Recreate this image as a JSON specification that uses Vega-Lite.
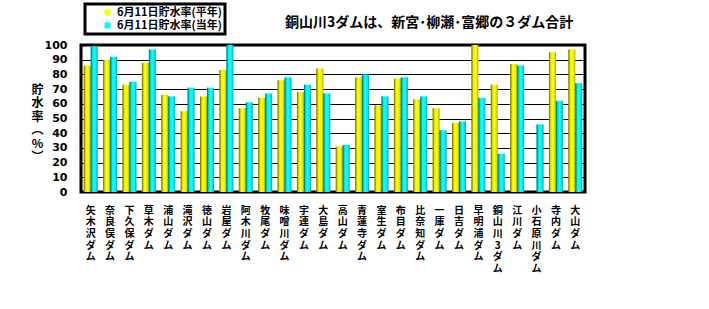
{
  "$schema": "https://vega.github.io/schema/vega-lite/v6.json",
  "width": 504,
  "height": 147,
  "autosize": {"type": "none"},
  "padding": {"left": 81, "top": 45, "right": 124, "bottom": 117},
  "background": "white",
  "title": {
    "text": "銅山川3ダムは、新宮･柳瀬･富郷の３ダム合計",
    "anchor": "start",
    "dx": 254,
    "dy": 43,
    "offset": 16,
    "font": "Noto Sans CJK JP",
    "fontSize": 14,
    "fontWeight": "bold",
    "color": "black"
  },
  "data": {
    "values": [
      {"dam": "矢木沢ダム", "series": "6月11日貯水率(平年)", "value": 86},
      {"dam": "矢木沢ダム", "series": "6月11日貯水率(当年)", "value": 99},
      {"dam": "奈良俣ダム", "series": "6月11日貯水率(平年)", "value": 90},
      {"dam": "奈良俣ダム", "series": "6月11日貯水率(当年)", "value": 92},
      {"dam": "下久保ダム", "series": "6月11日貯水率(平年)", "value": 73},
      {"dam": "下久保ダム", "series": "6月11日貯水率(当年)", "value": 75},
      {"dam": "草木ダム", "series": "6月11日貯水率(平年)", "value": 88},
      {"dam": "草木ダム", "series": "6月11日貯水率(当年)", "value": 97},
      {"dam": "浦山ダム", "series": "6月11日貯水率(平年)", "value": 66},
      {"dam": "浦山ダム", "series": "6月11日貯水率(当年)", "value": 65},
      {"dam": "滝沢ダム", "series": "6月11日貯水率(平年)", "value": 55},
      {"dam": "滝沢ダム", "series": "6月11日貯水率(当年)", "value": 71},
      {"dam": "徳山ダム", "series": "6月11日貯水率(平年)", "value": 65},
      {"dam": "徳山ダム", "series": "6月11日貯水率(当年)", "value": 71},
      {"dam": "岩屋ダム", "series": "6月11日貯水率(平年)", "value": 83},
      {"dam": "岩屋ダム", "series": "6月11日貯水率(当年)", "value": 100},
      {"dam": "阿木川ダム", "series": "6月11日貯水率(平年)", "value": 57},
      {"dam": "阿木川ダム", "series": "6月11日貯水率(当年)", "value": 61},
      {"dam": "牧尾ダム", "series": "6月11日貯水率(平年)", "value": 64},
      {"dam": "牧尾ダム", "series": "6月11日貯水率(当年)", "value": 67},
      {"dam": "味噌川ダム", "series": "6月11日貯水率(平年)", "value": 76},
      {"dam": "味噌川ダム", "series": "6月11日貯水率(当年)", "value": 78},
      {"dam": "宇連ダム", "series": "6月11日貯水率(平年)", "value": 68},
      {"dam": "宇連ダム", "series": "6月11日貯水率(当年)", "value": 73},
      {"dam": "大島ダム", "series": "6月11日貯水率(平年)", "value": 84},
      {"dam": "大島ダム", "series": "6月11日貯水率(当年)", "value": 67},
      {"dam": "高山ダム", "series": "6月11日貯水率(平年)", "value": 31},
      {"dam": "高山ダム", "series": "6月11日貯水率(当年)", "value": 32},
      {"dam": "青蓮寺ダム", "series": "6月11日貯水率(平年)", "value": 78},
      {"dam": "青蓮寺ダム", "series": "6月11日貯水率(当年)", "value": 80},
      {"dam": "室生ダム", "series": "6月11日貯水率(平年)", "value": 59},
      {"dam": "室生ダム", "series": "6月11日貯水率(当年)", "value": 65},
      {"dam": "布目ダム", "series": "6月11日貯水率(平年)", "value": 77},
      {"dam": "布目ダム", "series": "6月11日貯水率(当年)", "value": 78},
      {"dam": "比奈知ダム", "series": "6月11日貯水率(平年)", "value": 63},
      {"dam": "比奈知ダム", "series": "6月11日貯水率(当年)", "value": 65},
      {"dam": "一庫ダム", "series": "6月11日貯水率(平年)", "value": 57},
      {"dam": "一庫ダム", "series": "6月11日貯水率(当年)", "value": 42},
      {"dam": "日吉ダム", "series": "6月11日貯水率(平年)", "value": 47},
      {"dam": "日吉ダム", "series": "6月11日貯水率(当年)", "value": 48},
      {"dam": "早明浦ダム", "series": "6月11日貯水率(平年)", "value": 100},
      {"dam": "早明浦ダム", "series": "6月11日貯水率(当年)", "value": 64},
      {"dam": "銅山川3ダム", "series": "6月11日貯水率(平年)", "value": 73},
      {"dam": "銅山川3ダム", "series": "6月11日貯水率(当年)", "value": 26},
      {"dam": "江川ダム", "series": "6月11日貯水率(平年)", "value": 87},
      {"dam": "江川ダム", "series": "6月11日貯水率(当年)", "value": 86},
      {"dam": "小石原川ダム", "series": "6月11日貯水率(当年)", "value": 46},
      {"dam": "寺内ダム", "series": "6月11日貯水率(平年)", "value": 95},
      {"dam": "寺内ダム", "series": "6月11日貯水率(当年)", "value": 62},
      {"dam": "大山ダム", "series": "6月11日貯水率(平年)", "value": 97},
      {"dam": "大山ダム", "series": "6月11日貯水率(当年)", "value": 74}
    ]
  },
  "encoding": {
    "x": {
      "field": "dam",
      "type": "nominal",
      "sort": null,
      "scale": {"paddingInner": 0.28, "paddingOuter": 0.14},
      "axis": {
        "title": null,
        "domain": false,
        "ticks": false,
        "labelAngle": 0,
        "labelAlign": "center",
        "labelBaseline": "top",
        "labelPadding": 13,
        "labelOverlap": false,
        "labelExpr": "split(datum.label, '')",
        "labelLineHeight": 11.7,
        "labelFont": "Noto Sans CJK JP",
        "labelFontSize": 10,
        "labelFontWeight": "bold",
        "labelColor": "black"
      }
    },
    "xOffset": {
      "field": "series",
      "type": "nominal",
      "sort": ["6月11日貯水率(平年)", "6月11日貯水率(当年)"]
    },
    "y": {
      "field": "value",
      "type": "quantitative",
      "scale": {"domain": [0, 100], "nice": false},
      "axis": {
        "values": [0, 10, 20, 30, 40, 50, 60, 70, 80, 90, 100],
        "domain": false,
        "ticks": false,
        "grid": true,
        "gridColor": "black",
        "gridWidth": 1,
        "gridOpacity": 1,
        "labelPadding": 14,
        "labelFont": "DejaVu Sans",
        "labelFontSize": 11,
        "labelFontWeight": "bold",
        "labelColor": "black",
        "title": ["貯", "水", "率", "︵", "%", "︶"],
        "titleAngle": 0,
        "titleX": -44,
        "titleY": 44,
        "titleAlign": "center",
        "titleBaseline": "middle",
        "titleLineHeight": 13.5,
        "titleFont": "Noto Sans CJK JP",
        "titleFontSize": 12,
        "titleFontWeight": "bold",
        "titleColor": "black"
      }
    }
  },
  "layer": [
    {
      "mark": {"type": "bar"},
      "encoding": {
        "color": {
          "field": "series",
          "type": "nominal",
          "scale": {
            "domain": ["6月11日貯水率(平年)", "6月11日貯水率(当年)"],
            "range": ["#ffff00", "#00ffff"]
          },
          "legend": {
            "title": null,
            "orient": "none",
            "legendX": 4,
            "legendY": -41,
            "direction": "vertical",
            "padding": 3,
            "symbolOffset": 14,
            "labelOffset": 4,
            "rowPadding": 1,
            "strokeColor": "black",
            "fillColor": "white",
            "symbolType": "square",
            "symbolSize": 36,
            "symbolStrokeWidth": 0,
            "symbolOpacity": 1,
            "labelFont": "Noto Sans CJK JP",
            "labelFontSize": 11,
            "labelFontWeight": "bold",
            "labelColor": "black",
            "labelLimit": 300,
            "encode": {"legend": {"update": {"strokeWidth": {"value": 3}}}}
          }
        }
      }
    },
    {
      "mark": {
        "type": "bar",
        "color": {
          "gradient": "linear",
          "x1": 0, "x2": 1, "y1": 0, "y2": 0,
          "stops": [
            {"offset": 0, "color": "rgba(0,0,0,0.6)"},
            {"offset": 0.3, "color": "rgba(0,0,0,0.05)"},
            {"offset": 0.5, "color": "rgba(255,255,255,0.1)"},
            {"offset": 0.75, "color": "rgba(0,0,0,0.05)"},
            {"offset": 1, "color": "rgba(0,0,0,0.35)"}
          ]
        }
      }
    }
  ],
  "config": {
    "view": {"stroke": "black", "strokeWidth": 3}
  }
}
